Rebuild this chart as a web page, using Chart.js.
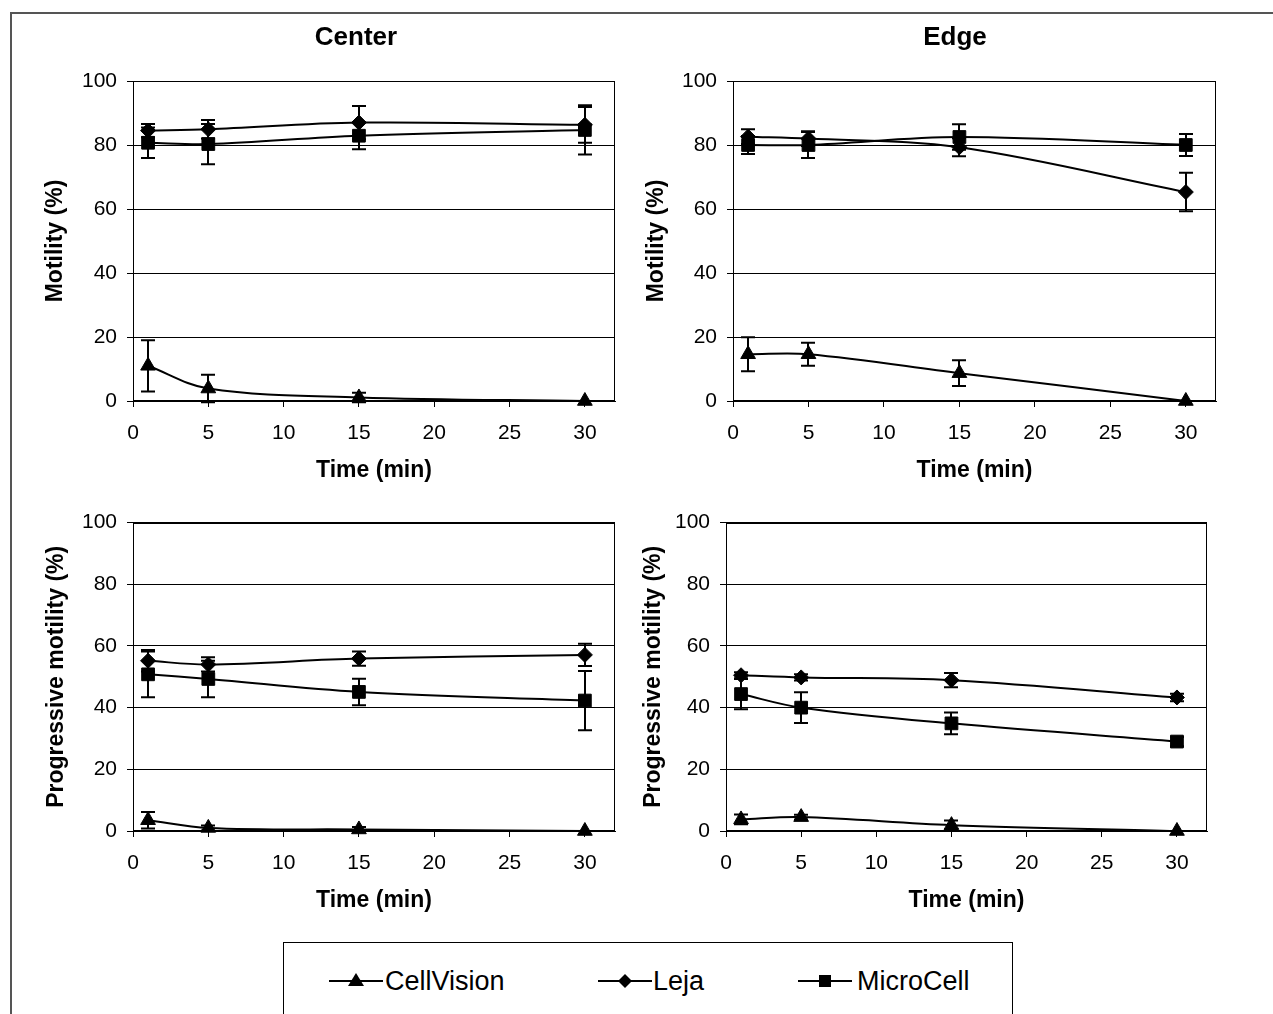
<!DOCTYPE html>
<html>
<head>
<meta charset="utf-8">
<script src="https://cdn.jsdelivr.net/npm/chart.js@4.4.1/dist/chart.umd.min.js"></script>
<style>
body{margin:0;background:#fff;width:1273px;height:1014px;overflow:hidden;position:relative;font-family:"Liberation Sans",Arial,sans-serif}
.frame{position:absolute;left:10px;top:12px;width:1300px;height:1100px;border-left:2px solid #555;border-top:2px solid #555}
canvas{position:absolute}
#legend{position:absolute;left:283px;top:942px;width:728px;height:120px;border:1px solid #000;background:#fff}
.item{position:absolute;top:25px;height:26px}
.item svg{position:absolute;top:0}
.item span{position:absolute;top:-3px;font-size:27px;line-height:32px;white-space:nowrap;color:#000}
</style>
</head>
<body>
<div class="frame"></div>
<canvas id="c1" width="632" height="485" style="left:40px;top:15px"></canvas>
<canvas id="c2" width="630" height="485" style="left:640px;top:15px"></canvas>
<canvas id="c3" width="632" height="430" style="left:40px;top:500px"></canvas>
<canvas id="c4" width="630" height="430" style="left:640px;top:500px"></canvas>
<div id="legend">
  <div class="item" style="left:45px">
    <svg width="54" height="26"><line x1="0" y1="13" x2="54" y2="13" stroke="#000" stroke-width="2"/><polygon points="27,5 35,18 19,18" fill="#000"/></svg>
    <span style="left:56px">CellVision</span>
  </div>
  <div class="item" style="left:314px">
    <svg width="54" height="26"><line x1="0" y1="13" x2="54" y2="13" stroke="#000" stroke-width="2"/><polygon points="27,6 34,13 27,20 20,13" fill="#000"/></svg>
    <span style="left:55px">Leja</span>
  </div>
  <div class="item" style="left:514px">
    <svg width="54" height="26"><line x1="0" y1="13" x2="54" y2="13" stroke="#000" stroke-width="2"/><rect x="21" y="7" width="12" height="12" fill="#000"/></svg>
    <span style="left:59px">MicroCell</span>
  </div>
</div>
<script>
Chart.defaults.font.family = '"Liberation Sans", Arial, sans-serif';
Chart.defaults.color = '#000';

const times = [1, 5, 15, 30];
const seriesNames = ["CellVision", "Leja", "MicroCell"];

// Center - motility
const cMotCV = [11, 3.9, 1.1, 0];
const cMotCVsd = [8, 4.3, 1.5, 0];
const cMotLeja = [84.5, 84.9, 87.0, 86.3];
const cMotLejaSd = [2.1, 2.9, 5.2, 5.6];
const cMotMC = [80.7, 80.3, 82.9, 84.7];
const cMotMCsd = [4.8, 6.3, 4.2, 7.7];

// Edge - motility
const eMotCV = [14.6, 14.6, 8.7, 0];
const eMotCVsd = [5.3, 3.6, 4.0, 0];
const eMotLeja = [82.6, 82.0, 79.3, 65.3];
const eMotLejaSd = [2.3, 2.3, 2.8, 6.0];
const eMotMC = [80.0, 80.0, 82.5, 80.0];
const eMotMCsd = [2.8, 4.1, 4.0, 3.4];

// Center - progressive motility
const cProCV = [3.5, 1.0, 0.5, 0];
const cProCVsd = [2.7, 0.8, 0.8, 0];
const cProLeja = [55.2, 54.0, 55.9, 57.1];
const cProLejaSd = [3.5, 2.3, 2.3, 3.6];
const cProMC = [50.8, 49.3, 45.1, 42.3];
const cProMCsd = [7.4, 5.9, 4.3, 9.6];

// Edge - progressive motility
const eProCV = [3.75, 4.5, 1.9, 0];
const eProCVsd = [1.6, 0.8, 1.5, 0];
const eProLeja = [50.5, 49.8, 48.9, 43.3];
const eProLejaSd = [1.0, 1.0, 2.3, 1.2];
const eProMC = [44.4, 40.0, 34.9, 29.0];
const eProMCsd = [4.9, 5.0, 3.5, 1.5];

const styles = [
  {pointStyle: 'triangle', pointRadius: 8.5},
  {pointStyle: 'rectRot', pointRadius: 7.5},
  {pointStyle: 'rect', pointRadius: 9}
];

// error bars (drawn under the markers)
const errorBars = {
  id: 'errorBars',
  beforeDatasetsDraw(chart) {
    const ctx = chart.ctx, xs = chart.scales.x, ys = chart.scales.y;
    ctx.save();
    ctx.strokeStyle = '#000';
    ctx.lineWidth = 2;
    chart.data.datasets.forEach(ds => {
      ds.data.forEach((p, i) => {
        const e = ds.errors[i];
        if (!e) return;
        const px = Math.round(xs.getPixelForValue(p.x));
        const t = ys.getPixelForValue(p.y + e);
        const b = ys.getPixelForValue(p.y - e);
        ctx.beginPath();
        ctx.moveTo(px, t); ctx.lineTo(px, b);
        ctx.moveTo(px - 7, t); ctx.lineTo(px + 7, t);
        ctx.moveTo(px - 7, b); ctx.lineTo(px + 7, b);
        ctx.stroke();
      });
    });
    ctx.restore();
  }
};

// box around the plot area + panel heading
const plotFrame = {
  id: 'plotFrame',
  afterDraw(chart, args, opts) {
    const a = chart.chartArea, ctx = chart.ctx;
    ctx.save();
    ctx.strokeStyle = '#000';
    ctx.lineWidth = 1;
    ctx.strokeRect(Math.round(a.left) + 0.5, Math.round(a.top) + 0.5,
      Math.round(a.right - a.left) - 1, Math.round(a.bottom - a.top) - 1);
    if (opts.text) {
      ctx.fillStyle = '#000';
      ctx.font = 'bold 26px "Liberation Sans", Arial, sans-serif';
      ctx.textAlign = 'center';
      ctx.textBaseline = 'middle';
      ctx.fillText(opts.text, opts.x, opts.y);
    }
    ctx.restore();
  }
};

function makePanel(id, title, yTitle, vals, sds, geo) {
  const datasets = seriesNames.map((name, k) => ({
    label: name,
    data: times.map((t, i) => ({x: t, y: vals[k][i]})),
    errors: sds[k],
    borderColor: '#000',
    backgroundColor: '#000',
    borderWidth: 2,
    pointStyle: styles[k].pointStyle,
    pointRadius: styles[k].pointRadius,
    pointBorderWidth: 1,
    tension: 0.35,
    fill: false,
    clip: false
  }));

  new Chart(document.getElementById(id), {
    type: 'line',
    data: {datasets},
    plugins: [errorBars, plotFrame],
    options: {
      responsive: false,
      animation: false,
      devicePixelRatio: 1,
      layout: {padding: {left: 0, right: geo.right, top: geo.top, bottom: 0}},
      plugins: {
        legend: {display: false},
        tooltip: {enabled: false},
        title: {display: false},
        plotFrame: {text: title, x: geo.tx, y: 23}
      },
      scales: {
        x: {
          type: 'linear',
          min: 0, max: 32,
          ticks: {stepSize: 5, includeBounds: false, padding: 14, font: {size: 21}, maxRotation: 0},
          grid: {drawOnChartArea: false, drawTicks: true, tickLength: 6, color: '#000'},
          border: {color: '#000', width: 1},
          title: {display: true, text: 'Time (min)', font: {size: 23, weight: 'bold'}, padding: {top: 0, bottom: 16}},
          afterFit(s) { s.height = 99; }
        },
        y: {
          min: 0, max: 100,
          ticks: {stepSize: 20, padding: 10, font: {size: 21}},
          grid: {color: '#000', tickLength: 6},
          border: {color: '#000', width: 1},
          title: {display: true, text: yTitle, font: {size: 23, weight: 'bold'}, padding: {top: geo.yPad, bottom: 0}},
          afterFit(s) { s.width = geo.yw; }
        }
      }
    }
  });
}

makePanel('c1', 'Center', 'Motility (%)',
  [cMotCV, cMotLeja, cMotMC], [cMotCVsd, cMotLejaSd, cMotMCsd],
  {right: 57, top: 66, yw: 93, yPad: 2, tx: 316});
makePanel('c2', 'Edge', 'Motility (%)',
  [eMotCV, eMotLeja, eMotMC], [eMotCVsd, eMotLejaSd, eMotMCsd],
  {right: 54, top: 66, yw: 93, yPad: 3, tx: 315});
makePanel('c3', '', 'Progressive motility (%)',
  [cProCV, cProLeja, cProMC], [cProCVsd, cProLejaSd, cProMCsd],
  {right: 57, top: 12, yw: 93, yPad: 3});
makePanel('c4', '', 'Progressive motility (%)',
  [eProCV, eProLeja, eProMC], [eProCVsd, eProLejaSd, eProMCsd],
  {right: 63, top: 12, yw: 86, yPad: 0});
</script>
</body>
</html>
